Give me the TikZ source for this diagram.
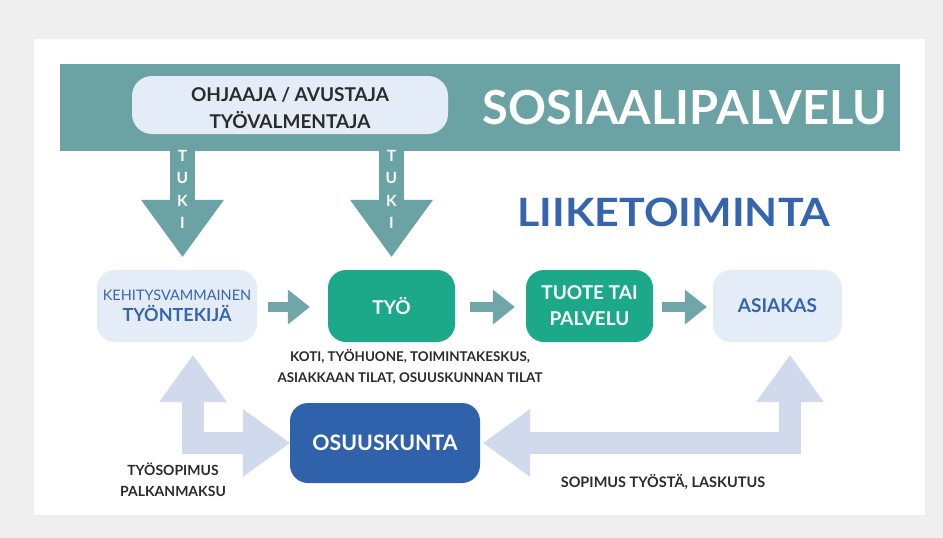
\documentclass[tikz,border=0pt]{standalone}
\usepackage{fontspec}
\setmainfont{Lato}
\usetikzlibrary{arrows.meta,calc}
\definecolor{bgc}{HTML}{EFEFEF}
\definecolor{tealc}{HTML}{6BA2A3}
\definecolor{tealarr}{HTML}{70A6A7}
\definecolor{paleb}{HTML}{E4ECF7}
\definecolor{greenc}{HTML}{1BA98A}
\definecolor{darkb}{HTML}{2F62AA}
\definecolor{textb}{HTML}{3565AF}
\definecolor{lightarr}{HTML}{D0DAEC}
\definecolor{darktext}{HTML}{2B2B2B}
\begin{document}
\begin{tikzpicture}[x=1pt,y=-1pt,
  box/.style={rounded corners=18pt, minimum height=72pt, inner sep=0pt, align=center},
  palebox/.style={box, fill=paleb, text=textb},
  greenbox/.style={box, fill=greenc, text=white, font=\fontsize{19}{26}\selectfont\bfseries},
  tuki/.style={draw=tealc, line width=25pt, -{Triangle[length=57pt,width=83pt,line width=0pt]}},
  tealflow/.style={draw=tealarr, line width=10pt, -{Triangle[length=22pt,width=35pt,line width=0pt]}},
  lightflow/.style={draw=lightarr, line width=22pt, line join=miter,
     {Triangle[length=47pt,width=68pt,line width=0pt]}-{Triangle[length=47pt,width=68pt,line width=0pt]}},
  tukiletter/.style={text=white, font=\fontsize{15.5}{15}\selectfont\bfseries, inner sep=0pt},
  label/.style={text=darktext, align=center, inner sep=0pt}
]
\useasboundingbox (0,0) rectangle (943,538);
\fill[bgc] (0,0) rectangle (943,538);
\fill[white] (34,39) rectangle (925,515);

% band
\node[fill=tealc, minimum width=840pt, minimum height=87pt, inner sep=0pt] (band) at (480,107.5) {};
\node[rounded corners=20pt, fill=paleb, minimum width=316pt, minimum height=58pt, inner sep=0pt] (ohj) at (290,105) {};
\node[label, font=\fontsize{19}{27}\selectfont\bfseries] (ohjt) at (290,108)
      {OHJAAJA / AVUSTAJA\\TYÖVALMENTAJA};
\node[text=white, font=\fontsize{47}{47}\selectfont\bfseries, inner sep=0pt] (sos) at (685,108) {SOSIAALIPALVELU};

\node[text=textb, font=\fontsize{39}{39}\selectfont\bfseries, inner sep=0pt] (liik) at (674,212) {\scalebox{1.1}[1]{LIIKETOIMINTA}};

% main nodes
\node[palebox, minimum width=160pt] (kehit) at (177,306)
  {{\fontsize{14.5}{15}\selectfont KEHITYSVAMMAINEN}\\[4pt]{\fontsize{18}{18}\selectfont\bfseries TYÖNTEKIJÄ}};
\node[greenbox, minimum width=127pt] (tyo) at (391.5,306) {TYÖ};
\node[greenbox, minimum width=127pt] (tuote) at (589.5,306) {TUOTE TAI\\PALVELU};
\node[palebox, minimum width=129pt, font=\fontsize{19}{19}\selectfont\bfseries] (asiak) at (777.5,306) {ASIAKAS};
\node[box, fill=darkb, text=white, minimum width=190pt, minimum height=80pt,
      font=\fontsize{21.3}{22}\selectfont\bfseries] (osuus) at (385,443) {OSUUSKUNTA};

% labels
\node[label, font=\fontsize{13.4}{21}\selectfont\bfseries] (koti) at (410,367)
  {KOTI, TYÖHUONE, TOIMINTAKESKUS,\\ASIAKKAAN TILAT, OSUUSKUNNAN TILAT};
\node[label, font=\fontsize{14}{21}\selectfont\bfseries] (tsop) at (173,480) {TYÖSOPIMUS\\PALKANMAKSU};
\node[label, font=\fontsize{14.5}{15}\selectfont\bfseries] (sopt) at (663,482) {SOPIMUS TYÖSTÄ, LASKUTUS};

% TUKI arrows
\coordinate (t1) at (182.5,145);
\coordinate (t2) at (391.5,145);
\draw[tuki] (t1) -- ([xshift=5.5pt,yshift=13pt]kehit.north);
\draw[tuki] (t2) -- ([yshift=13pt]tyo.north);
\foreach \x in {182.5, 391.5}{
  \node[tukiletter] at (\x,156) {T};
  \node[tukiletter] at (\x,177.5) {U};
  \node[tukiletter] at (\x,201) {K};
  \node[tukiletter] at (\x,223) {I};
}

% teal flow arrows
\draw[tealflow] ([xshift=11pt,yshift=-1pt]kehit.east) -- ([xshift=-18pt,yshift=-1pt]tyo.west);
\draw[tealflow] ([xshift=15pt,yshift=-1pt]tyo.east) -- ([xshift=-11pt,yshift=-1pt]tuote.west);
\draw[tealflow] ([xshift=9pt,yshift=-1pt]tuote.east) -- ([xshift=-6pt,yshift=-1pt]asiak.west);

% light double arrows
\draw[lightflow] ([xshift=16pt,yshift=-13pt]kehit.south) |- (osuus.west);
\draw[lightflow] ([xshift=3pt]osuus.east) -| ([xshift=12.5pt,yshift=-13pt]asiak.south);
\end{tikzpicture}
\end{document}
